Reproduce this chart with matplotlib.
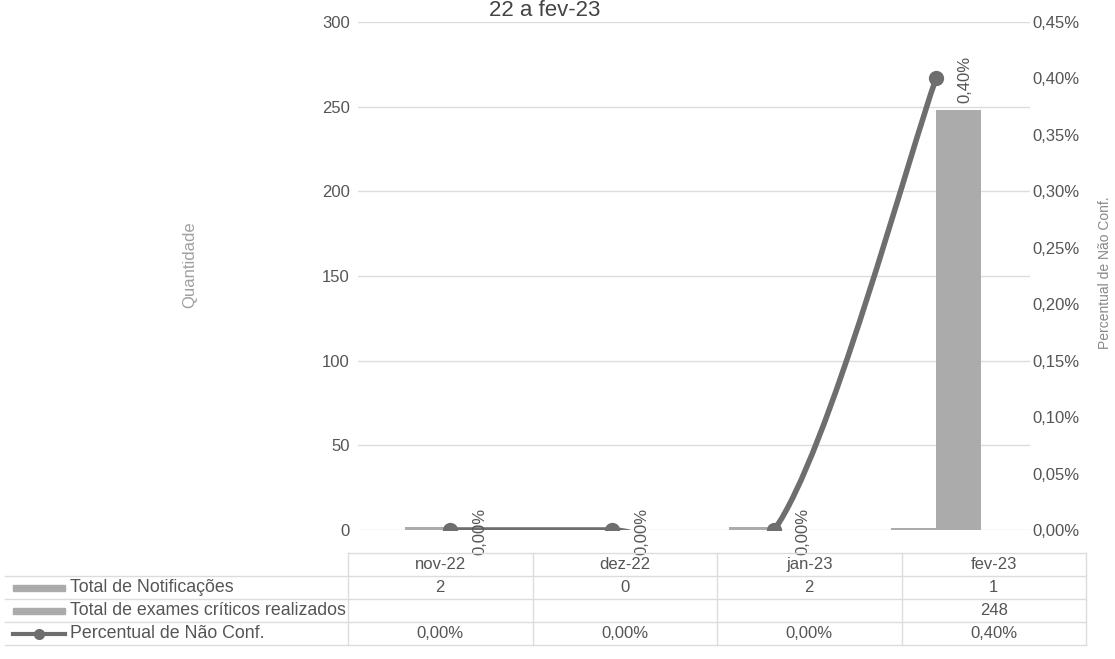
import matplotlib
matplotlib.use("Agg")
import matplotlib.pyplot as plt
import numpy as np
from matplotlib.path import Path
from matplotlib.patches import PathPatch, Rectangle
from matplotlib.lines import Line2D
from matplotlib.ticker import FuncFormatter

plt.rcParams['font.family'] = ['Liberation Sans', 'DejaVu Sans']

# Dados
meses = ["nov-22", "dez-22", "jan-23", "fev-23"]
notificacoes = [2, 0, 2, 1]
exames = [np.nan, np.nan, np.nan, 248]
exames_txt = ["", "", "", "248"]
percentual = [0.00, 0.00, 0.00, 0.40]   # em %

serie_nomes = ["Total de Notificações",
               "Total de exames críticos realizados",
               "Percentual de Não Conf."]

cor_barra = "#ababab"
cor_linha = "#6e6e6e"
cor_texto = "#555555"
cor_grade = "#dcdcdc"
fs = 12

W, H = 1115, 659
def fx(px):
    return px / W
def fy(py):
    return 1 - py / H

def pct(v):
    return f"{v:.2f}%".replace(".", ",")

fig = plt.figure(figsize=(W / 100, H / 100), dpi=100)

# Área do gráfico
ax = fig.add_axes([fx(358), fy(530), fx(1030) - fx(358), fy(22) - fy(530)])
x = np.arange(len(meses))
w = 0.28
ax.bar(x - w / 2, notificacoes, w, color=cor_barra, zorder=2)
ax.bar(x + w / 2, exames, w, color=cor_barra, zorder=2)
ax.set_xlim(-0.57, 3.58)
ax.set_ylim(0, 300)
ax.set_yticks(range(0, 301, 50))
ax.set_xticks([])
ax.grid(axis="y", color=cor_grade, lw=1, zorder=0)
ax.tick_params(axis="y", length=0, pad=6, labelsize=fs, labelcolor=cor_texto)
for s in ax.spines.values():
    s.set_visible(False)

# Eixo secundário com a linha suavizada
ax2 = ax.twinx()
ax2.set_ylim(0, 0.45)
ax2.set_yticks(np.arange(0, 0.451, 0.05))
ax2.yaxis.set_major_formatter(FuncFormatter(lambda v, p: pct(v)))
ax2.tick_params(axis="y", length=0, pad=2, labelsize=fs, labelcolor=cor_texto)
for s in ax2.spines.values():
    s.set_visible(False)

pts = np.column_stack([x, percentual]).astype(float)
n = len(pts)
verts = [tuple(pts[0])]
codes = [Path.MOVETO]
for i in range(n - 1):
    p0 = pts[max(i - 1, 0)]
    p1 = pts[i]
    p2 = pts[i + 1]
    p3 = pts[min(i + 2, n - 1)]
    c1 = p1 + (p2 - p0) / 6
    c2 = p2 - (p3 - p1) / 6
    verts += [tuple(c1), tuple(c2), tuple(p2)]
    codes += [Path.CURVE4] * 3
ax2.add_patch(PathPatch(Path(verts, codes), fill=False, ec=cor_linha, lw=4, zorder=3))
ax2.plot(x, percentual, "o", color=cor_linha, ms=10, zorder=4)
for xi, v in zip(x, percentual):
    ax2.annotate(pct(v), (xi, v), xytext=(21, -1), textcoords="offset points",
                 rotation=90, ha="center", va="center", fontsize=fs, color=cor_texto)

# Títulos
fig.text(fx(545), fy(10), "22 a fev-23", ha="center", va="center", fontsize=16, color="#444444")
fig.text(fx(190), fy(265), "Quantidade", rotation=90, ha="center", va="center",
         fontsize=12, color="#a0a0a0")
fig.text(fx(1105), fy(273), "Percentual de Não Conf.", rotation=90, ha="center", va="center",
         fontsize=10, color="#888888")

# Tabela de dados
tax = fig.add_axes([fx(348), fy(645), fx(1086) - fx(348), fy(553) - fy(645)])
tax.set_xlim(-0.5, 3.5)
tax.set_ylim(4, 0)
tax.axis("off")
linhas = [notificacoes, exames_txt, [pct(v) for v in percentual]]
for i, m in enumerate(meses):
    tax.text(i, 0.5, m, ha="center", va="center", fontsize=fs, color=cor_texto)
    for r, vals in enumerate(linhas):
        tax.text(i, r + 1.5, str(vals[i]), ha="center", va="center", fontsize=fs, color=cor_texto)
for b in np.arange(-0.5, 3.6, 1):
    tax.plot([b, b], [0, 4], color=cor_grade, lw=1, clip_on=False)
tax.plot([-0.5, 3.5], [0, 0], color=cor_grade, lw=1, clip_on=False)

row_y = [553 + 23 * k for k in range(5)]
for yy in row_y[1:]:
    fig.add_artist(Line2D([fx(5), fx(1086)], [fy(yy), fy(yy)], color=cor_grade, lw=1))

for r, nome in enumerate(serie_nomes):
    yc = row_y[r + 1] + 11.5
    fig.text(fx(70), fy(yc), nome, ha="left", va="center", fontsize=12.8, color=cor_texto)
    if r < 2:
        fig.add_artist(Rectangle((fx(13), fy(yc + 3)), fx(65) - fx(13), fy(yc - 3) - fy(yc + 3),
                                 color=cor_barra, transform=fig.transFigure))
    else:
        fig.add_artist(Line2D([fx(13), fx(65)], [fy(yc), fy(yc)], color=cor_linha, lw=3))
        fig.add_artist(Line2D([fx(39)], [fy(yc)], marker="o", ms=7, color=cor_linha))

fig.savefig("out.png", dpi=100, facecolor="white")
